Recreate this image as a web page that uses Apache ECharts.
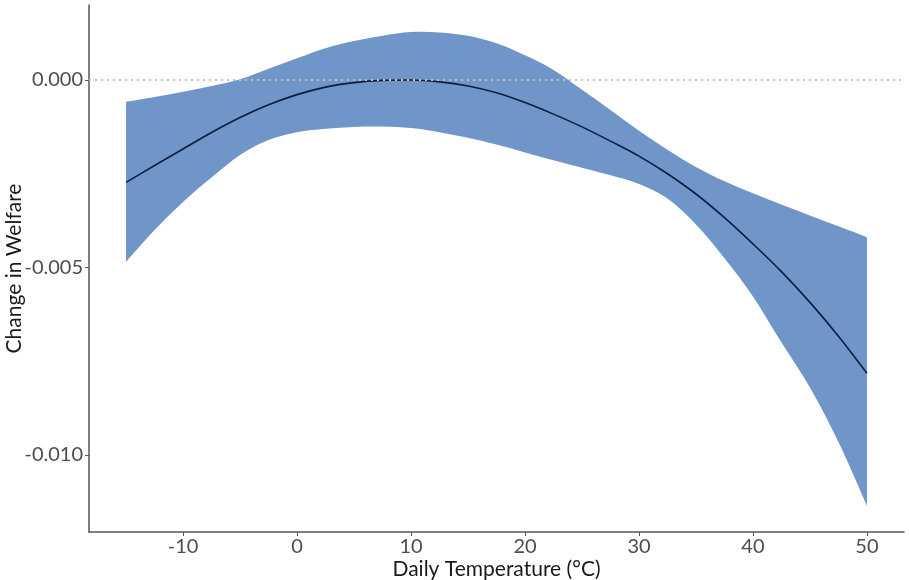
<!DOCTYPE html>
<html>
<head>
<meta charset="utf-8">
<script src="https://cdn.jsdelivr.net/npm/echarts@6/dist/echarts.min.js"></script>
<style>html,body{margin:0;padding:0;background:#fff}#c{width:909px;height:580px}</style>
</head>
<body>
<div id="c"></div>
<script>
const temps = [-15,-12.5,-10,-7.5,-5,-2.5,0,2.5,5,7.5,10,12.5,15,17.5,20,22.5,25,27.5,30,32.5,35,37.5,40,42.5,45,47.5,50];
const estimate = [-0.00273,-0.00228,-0.00184,-0.00140,-0.00100,-0.00066,-0.00039,-0.00019,-0.00007,-0.00001,0.00000,-0.00005,-0.00016,-0.00034,-0.00060,-0.00091,-0.00125,-0.00163,-0.00203,-0.00250,-0.00304,-0.00367,-0.00437,-0.00511,-0.00593,-0.00683,-0.00782];
const upper = [-0.00058,-0.00045,-0.00031,-0.00016,0.00002,0.00030,0.00058,0.00085,0.00104,0.00118,0.00128,0.00127,0.00118,0.00098,0.00066,0.00027,-0.00026,-0.00080,-0.00135,-0.00186,-0.00232,-0.00270,-0.00302,-0.00332,-0.00361,-0.00390,-0.00419];
const lower = [-0.00485,-0.00400,-0.00325,-0.00260,-0.00200,-0.00160,-0.00139,-0.00130,-0.00125,-0.00124,-0.00128,-0.00139,-0.00154,-0.00172,-0.00193,-0.00214,-0.00234,-0.00254,-0.00277,-0.00316,-0.00385,-0.00475,-0.00577,-0.00700,-0.00820,-0.00965,-0.01135];
const xTicks = [-10,0,10,20,30,40,50];
const yTicks = [-0.010,-0.005,0.000];

function catmull(pts, startCmd) {
  let d = startCmd + pts[0][0] + ' ' + pts[0][1];
  for (let i = 0; i < pts.length - 1; i++) {
    const p0 = pts[Math.max(i - 1, 0)], p1 = pts[i], p2 = pts[i + 1], p3 = pts[Math.min(i + 2, pts.length - 1)];
    const c1x = p1[0] + (p2[0] - p0[0]) / 6, c1y = p1[1] + (p2[1] - p0[1]) / 6;
    const c2x = p2[0] - (p3[0] - p1[0]) / 6, c2y = p2[1] - (p3[1] - p1[1]) / 6;
    d += ' C' + c1x + ' ' + c1y + ' ' + c2x + ' ' + c2y + ' ' + p2[0] + ' ' + p2[1];
  }
  return d;
}

const bandData = temps.map((t, i) => [t, lower[i], upper[i]]);
const font = 'Lato';
const chart = echarts.init(document.getElementById('c'), null, {renderer:'canvas'});
chart.setOption({
  animation:false,
  backgroundColor:'#fff',
  grid:{left:89, width:815, top:5, bottom:48, containLabel:false, outerBoundsMode:'none'},
  xAxis:{
    type:'value', min:-18.25, max:53.25,
    name:'Daily Temperature (°C)', nameLocation:'middle', nameGap:27, nameMoveOverlap:false,
    nameTextStyle:{fontFamily:font, fontSize:21, color:'#1a1a1a'},
    axisLine:{show:true, onZero:false, lineStyle:{color:'#555', width:1.5}},
    axisTick:{show:true, customValues:xTicks, length:4, lineStyle:{color:'#555'}},
    axisLabel:{customValues:xTicks, fontFamily:font, fontSize:20, color:'#4d4d4d', margin:5},
    splitLine:{show:false}
  },
  yAxis:{
    type:'value', min:-0.012053, max:0.002,
    name:'Change in Welfare', nameLocation:'middle', nameGap:64, nameRotate:90, nameMoveOverlap:false,
    nameTextStyle:{fontFamily:font, fontSize:21, color:'#1a1a1a'},
    axisLine:{show:true, onZero:false, lineStyle:{color:'#555', width:1.5}},
    axisTick:{show:true, customValues:yTicks, length:4, lineStyle:{color:'#555'}},
    axisLabel:{customValues:yTicks, fontFamily:font, fontSize:20, color:'#4d4d4d', margin:6,
      formatter:v=>v.toFixed(3)},
    splitLine:{show:false}
  },
  series:[
    {
      type:'line', name:'zero', z:1, data:[], silent:true,
      markLine:{silent:true, symbol:'none', label:{show:false},
        lineStyle:{type:[2,4], color:'#c9c1b3', width:2},
        data:[{yAxis:0}]}
    },
    {
      type:'custom', name:'band', z:2, silent:true,
      data:bandData,
      encode:{x:0, y:[1,2]},
      renderItem:function(params, api){
        if (params.dataIndex !== 0) return null;
        const up = bandData.map(r => api.coord([r[0], r[2]]));
        const lo = bandData.map(r => api.coord([r[0], r[1]])).reverse();
        let d = catmull(up, 'M') + ' ' + catmull(lo, 'L') + ' Z';
        return {type:'path', shape:{pathData:d}, style:{fill:'#7095c9', stroke:null}};
      }
    },
    {
      type:'line', name:'estimate', z:3,
      data:temps.map((t,i)=>[t,estimate[i]]), smooth:0.35, symbol:'none',
      lineStyle:{color:'#0c1d3e', width:1.6}
    }
  ]
});
</script>
</body>
</html>
